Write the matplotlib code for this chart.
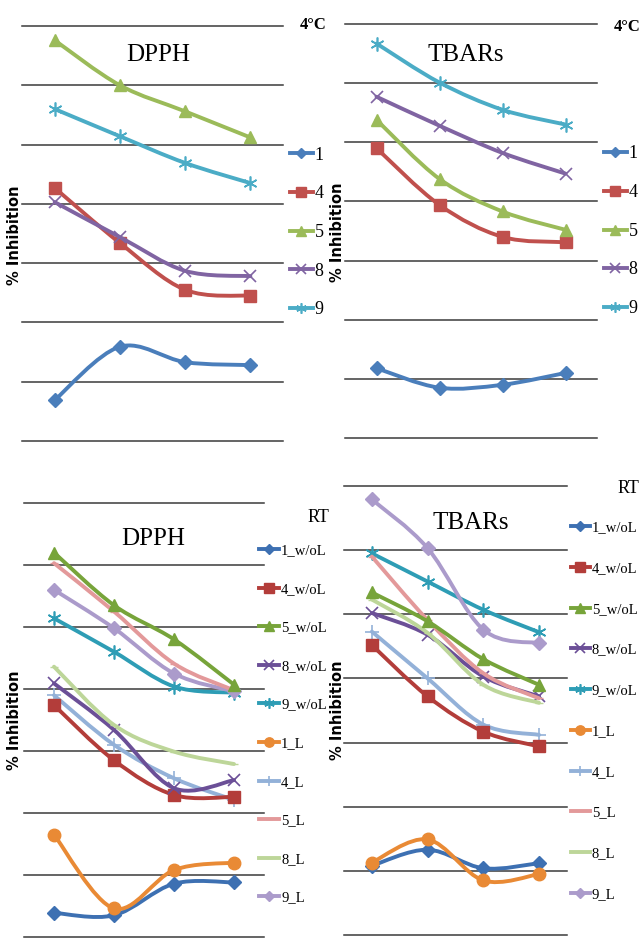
import matplotlib
matplotlib.use("Agg")
import matplotlib.pyplot as plt
from matplotlib.path import Path
from matplotlib.patches import PathPatch
from matplotlib.lines import Line2D
import numpy as np

# ---------------- data ----------------
days = ["d1", "d2", "d3", "d4"]

# Top panels (4 °C)
top_labels = ["1", "4", "5", "8", "9"]
dpph_4c_1 = [6.9, 15.9, 13.3, 12.8]
dpph_4c_4 = [42.7, 33.4, 25.5, 24.5]
dpph_4c_5 = [67.6, 60.0, 55.6, 51.2]
dpph_4c_8 = [40.3, 34.4, 28.7, 27.8]
dpph_4c_9 = [56.0, 51.4, 46.9, 43.5]

tbars_4c_1 = [11.8, 8.5, 9.0, 11.0]
tbars_4c_4 = [49.0, 39.4, 34.0, 33.1]
tbars_4c_5 = [53.8, 43.8, 38.3, 35.2]
tbars_4c_8 = [57.7, 52.8, 48.2, 44.7]
tbars_4c_9 = [66.7, 60.1, 55.5, 53.0]

# Bottom panels (RT)
rt_labels = ["1_w/oL", "4_w/oL", "5_w/oL", "8_w/oL", "9_w/oL",
             "1_L", "4_L", "5_L", "8_L", "9_L"]
dpph_rt_1_wol = [3.9, 3.5, 8.6, 8.8]
dpph_rt_4_wol = [37.4, 28.5, 22.9, 22.6]
dpph_rt_5_wol = [62.0, 53.5, 48.0, 40.7]
dpph_rt_8_wol = [40.9, 33.4, 24.0, 25.3]
dpph_rt_9_wol = [51.4, 46.0, 40.4, 39.4]
dpph_rt_1_l = [16.5, 4.6, 10.8, 12.0]
dpph_rt_4_l = [39.0, 31.0, 25.6, 22.1]
dpph_rt_5_l = [60.3, 52.5, 44.1, 39.8]
dpph_rt_8_l = [43.6, 34.2, 29.9, 27.9]
dpph_rt_9_l = [56.0, 49.8, 42.5, 39.6]

tbars_rt_1_wol = [10.8, 13.3, 10.4, 11.2]
tbars_rt_4_wol = [45.2, 37.2, 31.7, 29.4]
tbars_rt_5_wol = [53.4, 48.9, 43.0, 39.0]
tbars_rt_8_wol = [50.2, 46.8, 40.3, 37.2]
tbars_rt_9_wol = [59.5, 55.1, 50.7, 47.2]
tbars_rt_1_l = [11.3, 14.9, 8.5, 9.5]
tbars_rt_4_l = [47.3, 40.0, 32.8, 31.2]
tbars_rt_5_l = [59.0, 49.1, 40.8, 36.9]
tbars_rt_8_l = [52.3, 47.1, 39.0, 36.2]
tbars_rt_9_l = [67.9, 60.3, 47.6, 45.5]

y_ticks = [0, 10, 20, 30, 40, 50, 60, 70]

# ---------------- styles ----------------
top_styles = [
    dict(color="#4A7EBB", marker="D", ms=7),
    dict(color="#C0504D", marker="s", ms=9),
    dict(color="#9BBB59", marker="^", ms=9),
    dict(color="#8064A2", marker="x", ms=9, mew=1.2),
    dict(color="#4BACC6", marker=(6, 2, 0), ms=10, mew=1.2),
]
rt_styles = [
    dict(color="#3D70B2", marker="D", ms=7),
    dict(color="#B33D3A", marker="s", ms=9),
    dict(color="#77A43A", marker="^", ms=9),
    dict(color="#6B4F97", marker="x", ms=9, mew=1.2),
    dict(color="#2E9DB5", marker=(6, 2, 0), ms=10, mew=1.2),
    dict(color="#E98A35", marker="o", ms=9),
    dict(color="#93B1D8", marker="+", ms=10, mew=1.2),
    dict(color="#E3999A", marker="_", ms=6),
    dict(color="#BDD699", marker="_", ms=6),
    dict(color="#AB9BCB", marker="D", ms=7),
]

SERIF = ["Liberation Serif", "DejaVu Serif"]


def smooth_path(xs, ys):
    """Excel-style smoothed line as cubic Bezier segments (Catmull-Rom)."""
    pts = np.column_stack([xs, ys]).astype(float)
    n = len(pts)
    verts = [pts[0]]
    codes = [Path.MOVETO]
    for i in range(n - 1):
        p0 = pts[i - 1] if i > 0 else pts[i]
        p1 = pts[i]
        p2 = pts[i + 1]
        p3 = pts[i + 2] if i + 2 < n else pts[i + 1]
        c1 = p1 + (p2 - p0) / 6.0
        c2 = p2 - (p3 - p1) / 6.0
        verts += [c1, c2, p2]
        codes += [Path.CURVE4] * 3
    return Path(verts, codes)


def draw_series(ax, vals, st, z):
    x = np.arange(len(vals))
    ax.add_patch(PathPatch(smooth_path(x, vals), fill=False,
                           edgecolor=st["color"], lw=2.8, zorder=z,
                           capstyle="round", joinstyle="round"))
    ax.plot(x, vals, linestyle="none", marker=st["marker"], ms=st["ms"],
            color=st["color"], mec=st["color"], mew=st.get("mew", 1.0),
            zorder=z + 0.5, clip_on=False)


def setup_axes(rect):
    ax = fig.add_axes(rect)
    ax.set_xlim(-0.5, len(days) - 0.5)
    ax.set_ylim(y_ticks[0], y_ticks[-1])
    ax.set_yticks(y_ticks)
    ax.set_xticks([])
    ax.tick_params(left=False, labelleft=False)
    for s in ax.spines.values():
        s.set_visible(False)
    ax.yaxis.grid(True, color="#3a3a3a", lw=1.1)
    ax.set_axisbelow(True)
    for gl in ax.get_ygridlines():
        gl.set_clip_on(False)
    return ax


def add_legend(labels, styles, anchor, spacing, fs, hl):
    handles = [Line2D([0], [0], color=st["color"], lw=2.8,
                      marker=st["marker"], ms=st["ms"] * 0.75,
                      mec=st["color"], mew=st.get("mew", 1.0))
               for st in styles]
    leg = fig.legend(handles, labels, loc="upper left",
                     bbox_to_anchor=anchor, frameon=False,
                     prop={"family": SERIF, "size": fs},
                     handlelength=hl, handletextpad=0.12,
                     labelspacing=spacing, borderpad=0, borderaxespad=0)
    return leg


def ylabel(x, y):
    fig.text(x / 640, 1 - y / 938, "% Inhibition", rotation=90, ha="center",
             va="center", fontsize=10.5, fontweight="bold", family="DejaVu Sans")


fig = plt.figure(figsize=(6.4, 9.38), dpi=100)

# ---- top-left: DPPH 4 °C ----
ax1 = setup_axes([22 / 640, 1 - 441 / 938, 261 / 640, 415 / 938])
for i, vals in enumerate([dpph_4c_1, dpph_4c_4, dpph_4c_5, dpph_4c_8, dpph_4c_9]):
    draw_series(ax1, vals, top_styles[i], 3 + i)
ax1.text(0.52, 0.93, "DPPH", transform=ax1.transAxes, ha="center", va="center",
         fontsize=18, family=SERIF)
add_legend(top_labels, top_styles, (290 / 640, 1 - 146.5 / 938), 1.2, 13, 1.25)
fig.text(313 / 640, 1 - 25 / 938, "4°C", ha="center", va="center",
         fontsize=12, family=SERIF, fontweight="bold")
ylabel(15, 235)

# ---- top-right: TBARs 4 °C ----
ax2 = setup_axes([345 / 640, 1 - 438 / 938, 252 / 640, 414 / 938])
for i, vals in enumerate([tbars_4c_1, tbars_4c_4, tbars_4c_5, tbars_4c_8, tbars_4c_9]):
    draw_series(ax2, vals, top_styles[i], 3 + i)
ax2.text(0.48, 0.925, "TBARs", transform=ax2.transAxes, ha="center", va="center",
         fontsize=18, family=SERIF)
add_legend(top_labels, top_styles, (604 / 640, 1 - 145.5 / 938), 1.2, 13, 1.25)
fig.text(627 / 640, 1 - 27 / 938, "4°C", ha="center", va="center",
         fontsize=12, family=SERIF, fontweight="bold")
ylabel(337, 232)

# ---- bottom-left: DPPH RT ----
ax3 = setup_axes([24 / 640, 1 - 937 / 938, 240 / 640, 434 / 938])
rt_dpph = [dpph_rt_1_wol, dpph_rt_4_wol, dpph_rt_5_wol, dpph_rt_8_wol, dpph_rt_9_wol,
           dpph_rt_1_l, dpph_rt_4_l, dpph_rt_5_l, dpph_rt_8_l, dpph_rt_9_l]
order = [0, 5, 6, 1, 3, 8, 4, 9, 7, 2]
for k, i in enumerate(order):
    draw_series(ax3, rt_dpph[i], rt_styles[i], 3 + k)
ax3.text(0.54, 0.918, "DPPH", transform=ax3.transAxes, ha="center", va="center",
         fontsize=18, family=SERIF)
add_legend(rt_labels, rt_styles, (259 / 640, 1 - 544 / 938), 1.74, 10.5, 1.4)
fig.text(318 / 640, 1 - 517 / 938, "RT", ha="center", va="center",
         fontsize=13, family=SERIF)
ylabel(15, 720)

# ---- bottom-right: TBARs RT ----
ax4 = setup_axes([344 / 640, 1 - 935 / 938, 223 / 640, 449 / 938])
rt_tbars = [tbars_rt_1_wol, tbars_rt_4_wol, tbars_rt_5_wol, tbars_rt_8_wol, tbars_rt_9_wol,
            tbars_rt_1_l, tbars_rt_4_l, tbars_rt_5_l, tbars_rt_8_l, tbars_rt_9_l]
for k, i in enumerate(order):
    draw_series(ax4, rt_tbars[i], rt_styles[i], 3 + k)
ax4.text(0.57, 0.918, "TBARs", transform=ax4.transAxes, ha="center", va="center",
         fontsize=18, family=SERIF)
add_legend(rt_labels, rt_styles, (571 / 640, 1 - 521 / 938), 1.89, 10.5, 1.3)
fig.text(628 / 640, 1 - 488 / 938, "RT", ha="center", va="center",
         fontsize=13, family=SERIF)
ylabel(337, 710)

fig.savefig("out.png", dpi=100)
